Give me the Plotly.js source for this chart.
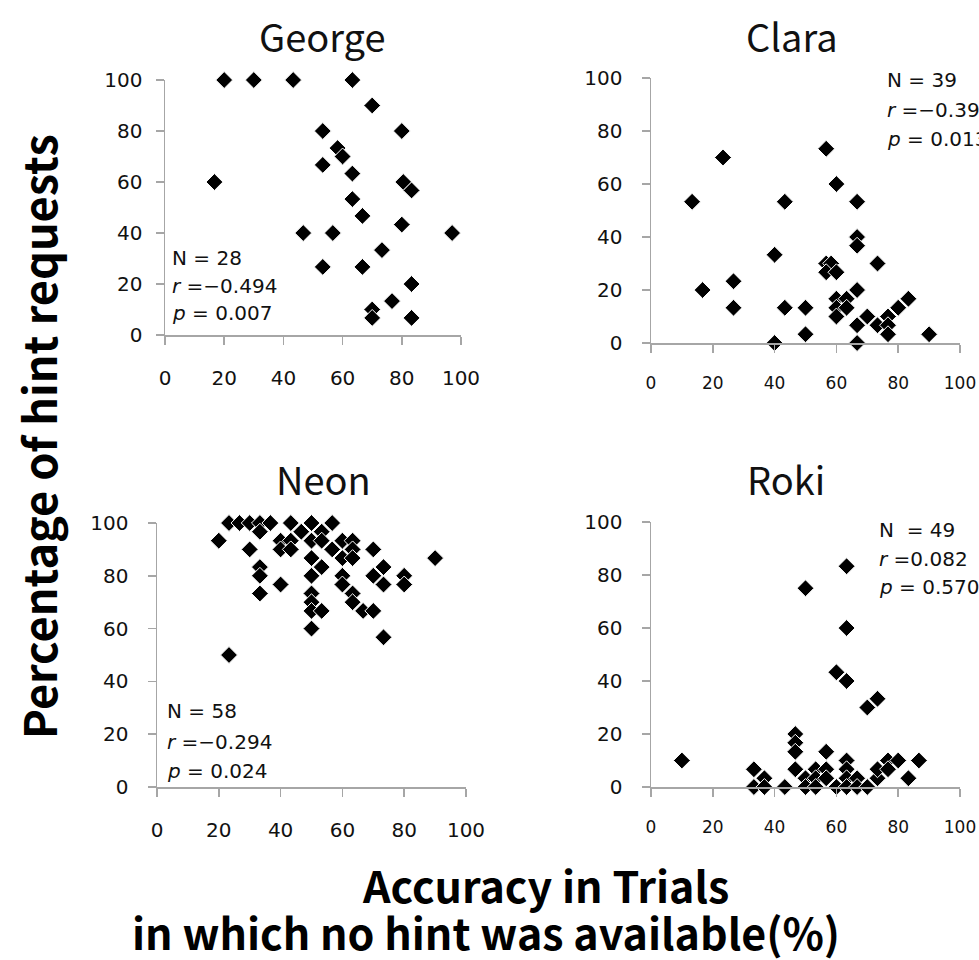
<!DOCTYPE html>
<html>
<head>
<meta charset="utf-8">
<script src="https://cdn.plot.ly/plotly-3.0.1.min.js"></script>
<style>
  html, body { margin: 0; padding: 0; background: #ffffff; overflow: hidden; }
  #chart { width: 979px; height: 960px; }
</style>
</head>
<body>
<div id="chart"></div>
<script>
// Accuracy (%) vs. percentage of hint requests, one panel per subject
const subjects = ["George", "Clara", "Neon", "Roki"];

const georgeX = [20, 30, 43.3, 63.3, 70, 53.3, 80, 58.3, 60, 53.3, 63.3, 16.7, 80.5, 83.3, 63.3, 66.7, 80, 46.7, 56.7, 97, 73.3, 53.3, 66.7, 83.3, 76.7, 70, 70, 83.3];
const georgeY = [100, 100, 100, 100, 90, 80, 80, 73.3, 70, 66.7, 63.3, 60, 60, 56.7, 53.3, 46.7, 43.3, 40, 40, 40, 33.3, 26.7, 26.7, 20, 13.3, 10, 6.7, 6.7];

const claraX = [13.3, 23.3, 16.7, 26.7, 26.7, 40, 40, 43.3, 43.3, 50, 50, 56.7, 60, 66.7, 66.7, 66.7, 56.7, 58.3, 56.7, 60, 73.3, 66.7, 60, 63.3, 60, 63.3, 60, 66.7, 66.7, 70, 73.3, 76.7, 76.7, 76.7, 80, 83.3, 90];
const claraY = [53.3, 70, 20, 23.3, 13.3, 33.3, 0, 53.3, 13.3, 13.3, 3.3, 73.3, 60, 53.3, 40, 36.7, 30, 30, 26.7, 26.7, 30, 20, 16.7, 16.7, 13.3, 13.3, 10, 6.7, 0, 10, 6.7, 10, 6.7, 3.3, 13.3, 16.7, 3.3];

const neonX = [23.3, 26.7, 30, 33.3, 36.7, 43.3, 50, 56.7, 20, 33.3, 30, 40, 43.3, 40, 43.3, 46.7, 53.3, 50, 53.3, 60, 63.3, 56.7, 63.3, 60, 63.3, 70, 90, 50, 53.3, 33.3, 33.3, 33.3, 40, 50, 60, 60, 73.3, 70, 73.3, 80, 80, 63.3, 63.3, 66.7, 70, 50, 50, 50, 53.3, 50, 73.3, 23.3];
const neonY = [100, 100, 100, 100, 100, 100, 100, 100, 93.3, 96.7, 90, 93.3, 93.3, 90, 90, 96.7, 96.7, 93.3, 93.3, 93.3, 93.3, 90, 90, 86.7, 86.7, 90, 86.7, 86.7, 83.3, 83.3, 80, 73.3, 76.7, 80, 80, 76.7, 83.3, 80, 76.7, 80, 76.7, 73.3, 70, 66.7, 66.7, 73.3, 70, 66.7, 66.7, 60, 56.7, 50];

const rokiX = [10, 50, 63.3, 63.3, 60, 63.3, 70, 73.3, 46.7, 46.7, 46.7, 46.7, 56.7, 33.3, 33.3, 36.7, 36.7, 43.3, 50, 50, 53.3, 53.3, 53.3, 56.7, 56.7, 60, 63.3, 63.3, 63.3, 63.3, 66.7, 66.7, 70, 73.3, 73.3, 76.7, 76.7, 80, 83.3, 86.7];
const rokiY = [10, 75, 83.3, 60, 43.3, 40, 30, 33.3, 20, 16.7, 13.3, 6.7, 13.3, 6.7, 0, 3.3, 0, 0, 3.3, 0, 6.7, 3.3, 0, 6.7, 3.3, 0, 10, 6.7, 3.3, 0, 3.3, 0, 0, 3.3, 6.7, 10, 6.7, 10, 3.3, 10];

const statN = ["N = 28", "N = 39", "N = 58", "N  = 49"];
const statR = ["<i>r</i> =\u22120.494", "<i>r</i> =\u22120.391", "<i>r</i> =\u22120.294", "<i>r</i> =0.082"];
const statP = ["<i>p</i> = 0.007", "<i>p</i> = 0.013", "<i>p</i> = 0.024", "<i>p</i> = 0.570"];

const tickVals = [0, 20, 40, 60, 80, 100];

const xTitle = "Accuracy in Trials";
const xTitle2 = "in which no hint was available(%)";
const yTitle = "Percentage of hint requests";

// ---- page geometry (pixels) ----
const W = 979, H = 960;
const fx = p => p / W;
const fy = p => 1 - p / H;

const tickFamily = "DejaVu Sans, sans-serif";
const textFamily = "Noto Sans CJK JP, Noto Sans, sans-serif";
const axisGray = "#a6a6a6";

// plot frames: [left, right, top, bottom] of the 0..100 box
const frames = [
  [165, 461, 80, 335],
  [651, 960, 78, 343],
  [157, 466, 523, 787],
  [651, 960, 522, 787]
];
const yStandoff = [9, 15, 15, 15];
const xTickSize = [20, 17, 20, 17];

function xAxis(f, anchor, size) {
  return {
    domain: [fx(f[0]), fx(f[1])], range: [0, 100], anchor: anchor,
    tickvals: tickVals, showgrid: false, zeroline: false,
    showline: true, linecolor: axisGray, linewidth: 1.5,
    ticks: "outside", ticklen: 8, tickwidth: 1.5, tickcolor: axisGray,
    tickfont: { family: tickFamily, size: size, color: "#111" },
    ticklabelstandoff: 16, ticklabeloverflow: "allow", fixedrange: true
  };
}
function yAxis(f, anchor, standoff) {
  return {
    domain: [fy(f[3]), fy(f[2])], range: [0, 100], anchor: anchor,
    tickvals: tickVals, showgrid: false, zeroline: false,
    showline: true, linecolor: axisGray, linewidth: 1.5,
    ticks: "outside", ticklen: 8, tickwidth: 1.5, tickcolor: axisGray,
    tickfont: { family: tickFamily, size: 20, color: "#111" },
    ticklabelstandoff: standoff, ticklabeloverflow: "allow", fixedrange: true
  };
}

const series = [[georgeX, georgeY], [claraX, claraY], [neonX, neonY], [rokiX, rokiY]];
const traces = series.map((s, i) => ({
  type: "scatter", mode: "markers", name: subjects[i],
  x: s[0], y: s[1],
  xaxis: i === 0 ? "x" : "x" + (i + 1),
  yaxis: i === 0 ? "y" : "y" + (i + 1),
  cliponaxis: false, hoverinfo: "skip",
  marker: { symbol: "diamond", size: 13, color: "#000", line: { color: "#fff", width: 1 } }
}));

// annotations: subplot titles, statistics, shared axis titles
const annotations = [];
const titlePos = [[322, 36], [792, 36], [323, 478], [786, 478]];
subjects.forEach((name, i) => {
  annotations.push({
    text: name, xref: "paper", yref: "paper",
    x: fx(titlePos[i][0]), y: fy(titlePos[i][1]),
    xanchor: "center", yanchor: "middle", showarrow: false,
    font: { family: textFamily, size: 38, color: "#111" }
  });
});
// left x and the three line centres for each panel's statistics
const statPos = [
  [170, [258, 286, 313]],
  [885, [80, 110, 139]],
  [165, [711, 742, 771]],
  [877, [530, 559, 587]]
];
statPos.forEach((p, i) => {
  [statN[i], statR[i], statP[i]].forEach((t, k) => {
    annotations.push({
      text: t, xref: "paper", yref: "paper",
      x: fx(p[0]), y: fy(p[1][k]),
      xanchor: "left", yanchor: "middle", showarrow: false,
      font: { family: tickFamily, size: 20, color: "#111" }
    });
  });
});
annotations.push({
  text: "<b>" + xTitle + "</b>", xref: "paper", yref: "paper",
  x: fx(545), y: fy(884), xanchor: "center", yanchor: "middle", showarrow: false,
  font: { family: textFamily, size: 43, color: "#000" }
});
annotations.push({
  text: "<b>" + xTitle2 + "</b>", xref: "paper", yref: "paper",
  x: fx(486), y: fy(931), xanchor: "center", yanchor: "middle", showarrow: false,
  font: { family: textFamily, size: 43, color: "#000" }
});
annotations.push({
  text: "<b>" + yTitle + "</b>", xref: "paper", yref: "paper",
  x: fx(37), y: fy(437), xanchor: "center", yanchor: "middle", showarrow: false,
  textangle: -90,
  font: { family: textFamily, size: 45, color: "#000" }
});

const layout = {
  width: W, height: H,
  margin: { l: 0, r: 0, t: 0, b: 0 },
  paper_bgcolor: "#fff", plot_bgcolor: "#fff",
  showlegend: false,
  annotations: annotations
};
frames.forEach((f, i) => {
  const sfx = i === 0 ? "" : String(i + 1);
  layout["xaxis" + sfx] = xAxis(f, "y" + sfx, xTickSize[i]);
  layout["yaxis" + sfx] = yAxis(f, "x" + sfx, yStandoff[i]);
});

Plotly.newPlot("chart", traces, layout, { staticPlot: true, displayModeBar: false });
</script>
</body>
</html>
